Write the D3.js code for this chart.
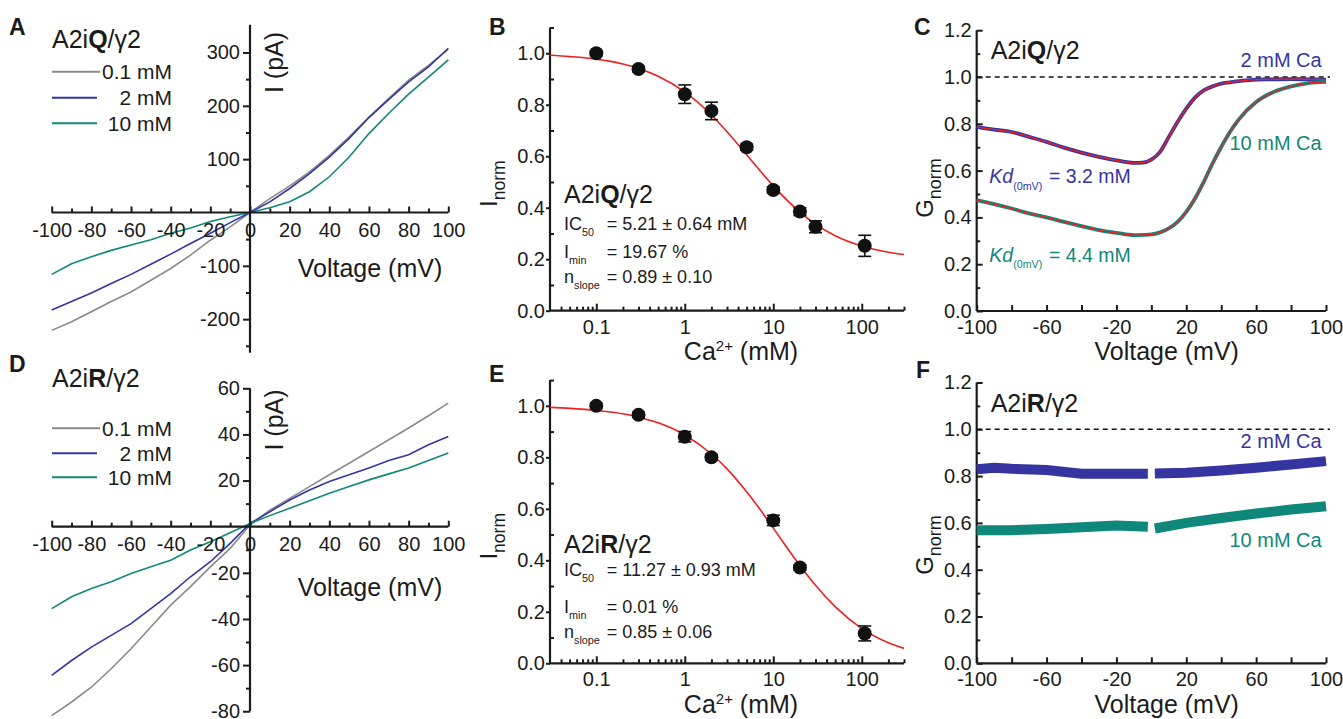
<!DOCTYPE html>
<html>
<head>
<meta charset="utf-8" />
<script src="https://d3js.org/d3.v7.min.js"></script>
<style>
  body { margin: 0; background: #fff; font-family: "Liberation Sans", Arial, sans-serif; }
  svg text { fill: #1b1b1b; }
  .tick line { stroke: #1b1b1b; stroke-width: 2; }
  .tick text { font-size: 20px; font-family: "Liberation Sans", Arial, sans-serif; fill: #1b1b1b; }
  .domain { display: none; }
  .axis-line { stroke: #1b1b1b; stroke-width: 2.2; }
</style>
</head>
<body>
<script>
// ---- data ----
const ivVoltage = [-100,-90,-80,-70,-60,-50,-40,-30,-20,-10,0,10,20,30,40,50,60,70,80,90,100];
const iqI01 = [-221,-205,-186,-167,-149,-127,-105,-80,-52,-27,0,26,50,76,107,142,179,214,248,276,306];
const iqI2  = [-183,-167,-151,-133,-116,-97,-78,-58,-39,-19,0,20,45,73,104,139,178,212,245,273,308];
const iqI10 = [-116,-96,-83,-71,-61,-51,-39,-29,-17,-8,0,9,20,39,67,104,148,186,222,254,286];
const irI01 = [-81.9,-76,-69.6,-61.6,-52.9,-43.5,-34,-26,-17.4,-9.4,0.7,7.2,12.3,17.4,22.5,27.5,32.6,37.7,42.8,48.1,53.6];
const irI2  = [-64.5,-58,-52.2,-47.1,-42,-35.5,-29,-21.7,-15.2,-7.2,1.4,6.5,11.6,15.9,19.6,22.5,25.4,28.7,31.2,35.5,39.1];
const irI10 = [-35.5,-30.4,-26.8,-23.9,-20.3,-17.4,-14.5,-10.1,-6.5,-2.6,1.4,4.8,8.0,11.2,14.5,17.4,20.3,22.9,25.4,28.7,31.9];
const legendLabels = ['0.1 mM', '2 mM', '10 mM'];

const iqConc = [0.1,0.3,1,2,5,10,20,30,108];
const iqNorm = [1.0,0.939,0.841,0.776,0.635,0.469,0.385,0.326,0.252];
const iqSem  = [0.01,0.01,0.036,0.034,0.012,0.012,0.015,0.023,0.041];
const irConc = [0.1,0.3,1,2,10,20,108];
const irNorm = [1.0,0.965,0.880,0.800,0.555,0.372,0.116];
const irSem  = [0.01,0.01,0.02,0.012,0.02,0.01,0.029];
const fitConc = [0.03,0.05,0.1,0.2,0.3,0.5,1,2,3,5,7,10,20,30,50,100,200,300];
const iqFit = [0.992,0.987,0.977,0.958,0.941,0.911,0.850,0.760,0.695,0.606,0.546,0.485,0.383,0.336,0.291,0.251,0.227,0.218];
const irFit = [0.994,0.990,0.982,0.969,0.956,0.934,0.887,0.813,0.755,0.666,0.600,0.525,0.380,0.303,0.220,0.135,0.080,0.058];

const gVoltage = [-100,-90,-80,-70,-60,-50,-40,-30,-20,-10,-5,0,5,10,15,20,25,30,35,40,45,50,60,70,80,90,100];
const iqG2  = [0.787,0.775,0.765,0.744,0.723,0.698,0.677,0.659,0.644,0.633,0.634,0.647,0.680,0.744,0.808,0.865,0.912,0.943,0.960,0.972,0.977,0.982,0.989,0.990,0.991,0.990,0.989];
const iqG10 = [0.474,0.457,0.438,0.417,0.400,0.381,0.363,0.346,0.334,0.324,0.325,0.327,0.336,0.353,0.381,0.424,0.481,0.552,0.630,0.701,0.765,0.818,0.893,0.936,0.960,0.974,0.979];
const fVoltage = [-100,-90,-80,-60,-40,-20,-2,0,2,20,40,60,80,100];
const irG2  = [0.829,0.836,0.831,0.826,0.810,0.810,0.810,null,0.811,0.814,0.824,0.836,0.850,0.864];
const irG10 = [0.569,0.569,0.569,0.574,0.581,0.589,0.584,null,0.576,0.600,0.621,0.640,0.657,0.671];

const colors = { gray: '#8a8a8a', blue: '#3535a2', teal: '#0f877a', red: '#ee2020' };
const plain = d => String(d); // keep the hyphen minus of the original

const svg = d3.select('body').append('svg').attr('width', 1343).attr('height', 719);

// text with sub/superscripts
function rich(g, x, y, size, parts, attrs = {}) {
  const t = g.append('text').attr('x', x).attr('y', y).attr('font-size', size);
  Object.entries(attrs).forEach(([k, v]) => t.attr(k, v));
  let shift = 0;
  parts.forEach(p => {
    const s = t.append('tspan').text(p.t);
    const target = p.sub ? size * 0.32 : p.sup ? -size * 0.38 : 0;
    if (p.x != null) s.attr('x', p.x);
    s.attr('dy', target - shift);
    shift = target;
    if (p.sub || p.sup) s.attr('font-size', size * (p.scale || 0.6));
    if (p.b) s.attr('font-weight', 'bold');
    if (p.i) s.attr('font-style', 'italic');
  });
  return t;
}
function vline(g, x, y1, y2) {
  g.append('line').attr('class', 'axis-line').attr('x1', x).attr('x2', x).attr('y1', y1).attr('y2', y2);
}
function hline(g, y, x1, x2) {
  g.append('line').attr('class', 'axis-line').attr('x1', x1).attr('x2', x2).attr('y1', y).attr('y2', y);
}
function letter(t, x, y) {
  svg.append('text').attr('x', x).attr('y', y).attr('font-size', 23).attr('font-weight', 'bold').text(t);
}
function title(g, x, y, bold) {
  rich(g, x, y, 25, [{ t: 'A2i' }, { t: bold, b: true }, { t: '/γ2' }]);
}

// ---------- I-V panels (A, D) ----------
const xIV = d3.scaleLinear().domain([-100, 100]).range([51.7, 448.3]);
function ivPanel({ y, yTicks, yMinor, yLow, yHigh, series, label, legendY, xLabelY }) {
  const g = svg.append('g');
  const line = d3.line().x(d => xIV(d[0])).y(d => y(d[1]));
  [colors.gray, colors.blue, colors.teal].forEach((c, i) => {
    g.append('path').attr('d', line(d3.zip(ivVoltage, series[i])))
      .attr('fill', 'none').attr('stroke', c).attr('stroke-width', 1.6);
  });
  // axes through origin
  hline(g, y(0), xIV(-100), xIV(100));
  vline(g, xIV(0), y(yLow), y(yHigh));
  g.append('g').attr('transform', `translate(0,${y(0)})`)
    .call(d3.axisBottom(xIV).tickValues(d3.range(-100, 101, 20)).tickFormat(plain)
      .tickSizeInner(-6).tickSizeOuter(0).tickPadding(10));
  g.append('g').attr('transform', `translate(0,${y(0)})`)
    .call(d3.axisBottom(xIV).tickValues(d3.range(-90, 100, 20)).tickSizeInner(-4).tickSizeOuter(0).tickFormat(''));
  g.append('g').attr('transform', `translate(${xIV(0)},0)`)
    .call(d3.axisLeft(y).tickValues(yTicks).tickFormat(plain).tickSize(7).tickPadding(3));
  g.append('g').attr('transform', `translate(${xIV(0)},0)`)
    .call(d3.axisLeft(y).tickValues(yMinor).tickSize(4).tickFormat(''));
  // axis titles
  g.append('text').attr('transform', `translate(283,${label}) rotate(-90)`)
    .attr('text-anchor', 'middle').attr('font-size', 25).text('I (pA)');
  g.append('text').attr('x', 370).attr('y', xLabelY).attr('text-anchor', 'middle')
    .attr('font-size', 25).text('Voltage (mV)');
  // legend
  [colors.gray, colors.blue, colors.teal].forEach((c, i) => {
    const ly = legendY[i];
    g.append('line').attr('x1', 52).attr('x2', i === 0 ? 100 : 97).attr('y1', ly).attr('y2', ly)
      .attr('stroke', c).attr('stroke-width', 2);
    g.append('text').attr('x', 172).attr('y', ly + 7.5).attr('text-anchor', 'end')
      .attr('font-size', 21).text(legendLabels[i]);
  });
  return g;
}

const yA = d3.scaleLinear().domain([0, 300]).range([212.5, 52.5]);
const gA = ivPanel({
  y: yA, yTicks: [-200, -100, 100, 200, 300], yMinor: [-250, -150, -50, 50, 150, 250],
  yLow: -263, yHigh: 352, series: [iqI01, iqI2, iqI10], label: 62.5, xLabelY: 277,
  legendY: [71.7, 97.7, 123.3]
});
title(gA, 52, 48, 'Q');
letter('A', 9, 35);

const yD = d3.scaleLinear().domain([0, 60]).range([526.7, 388.3]);
const gD = ivPanel({
  y: yD, yTicks: [-80, -60, -40, -20, 20, 40, 60], yMinor: [-70, -50, -30, -10, 10, 30, 50],
  yLow: -80, yHigh: 60, series: [irI01, irI2, irI10], label: 420, xLabelY: 596,
  legendY: [428.3, 453.3, 477.3]
});
title(gD, 52, 386.7, 'R');
letter('D', 9, 372);

// ---------- dose-response panels (B, E) ----------
const xCa = d3.scaleLog().domain([0.03, 300]).range([550, 904]);
const caMinor = [0.04,0.05,0.06,0.07,0.08,0.09,0.2,0.3,0.4,0.5,0.6,0.7,0.8,0.9,2,3,4,5,6,7,8,9,20,30,40,50,60,70,80,90,200,300];
function dosePanel({ y0, conc, norm, sem, fit, bold, titleY, rows, labelY }) {
  const g = svg.append('g');
  const y = d3.scaleLinear().domain([0, 1.1]).range([y0, y0 - 283.2]);
  vline(g, xCa.range()[0], y(0), y(1.1));
  hline(g, y(0), xCa.range()[0], xCa.range()[1]);
  g.append('g').attr('transform', `translate(${xCa.range()[0]},0)`)
    .call(d3.axisLeft(y).tickValues([0, 0.2, 0.4, 0.6, 0.8, 1.0]).tickFormat(d3.format('.1f')).tickSize(4).tickPadding(1));
  g.append('g').attr('transform', `translate(${xCa.range()[0]},0)`)
    .call(d3.axisLeft(y).tickValues([0.1, 0.3, 0.5, 0.7, 0.9, 1.1]).tickSizeInner(-4).tickSizeOuter(0).tickFormat(''));
  g.append('g').attr('transform', `translate(0,${y(0)})`)
    .call(d3.axisBottom(xCa).tickValues([0.1, 1, 10, 100]).tickFormat(plain).tickSizeInner(-7).tickSizeOuter(0).tickPadding(9));
  g.append('g').attr('transform', `translate(0,${y(0)})`)
    .call(d3.axisBottom(xCa).tickValues(caMinor).tickSizeInner(-4).tickSizeOuter(0).tickFormat(''));

  // fit curve
  g.append('path').attr('d', d3.line().curve(d3.curveMonotoneX).x(d => xCa(d[0])).y(d => y(d[1]))(d3.zip(fitConc, fit)))
    .attr('fill', 'none').attr('stroke', colors.red).attr('stroke-width', 1.6);
  // error bars + points
  const pts = d3.zip(conc, norm, sem);
  const eb = g.selectAll('.eb').data(pts).enter().append('g').attr('class', 'eb');
  eb.append('line').attr('x1', d => xCa(d[0])).attr('x2', d => xCa(d[0]))
    .attr('y1', d => y(d[1] - d[2])).attr('y2', d => y(d[1] + d[2])).attr('stroke', '#111').attr('stroke-width', 1.6);
  [-1, 1].forEach(s => {
    eb.append('line').attr('x1', d => xCa(d[0]) - 6.5).attr('x2', d => xCa(d[0]) + 6.5)
      .attr('y1', d => y(d[1] + s * d[2])).attr('y2', d => y(d[1] + s * d[2])).attr('stroke', '#111').attr('stroke-width', 1.6);
  });
  g.selectAll('.pt').data(pts).enter().append('circle')
    .attr('cx', d => xCa(d[0])).attr('cy', d => y(d[1])).attr('r', 7).attr('fill', '#111');

  // labels
  g.append('text').attr('transform', `translate(497,${y0 - 127}) rotate(-90)`).attr('text-anchor', 'middle')
    .call(t => {
      t.attr('font-size', 24);
      t.append('tspan').text('I');
      t.append('tspan').attr('dy', 7.5).attr('font-size', 17.5).text('norm');
    });
  rich(g, 741, labelY, 25, [{ t: 'Ca' }, { t: '2+', sup: true }, { t: ' (mM)' }], { 'text-anchor': 'middle' });
  title(g, 564, titleY, bold);
  const x2 = 606.7;
  rich(g, 564, rows[0].y, 18, [{ t: 'IC' }, { t: '50', sub: true }, { t: rows[0].t, x: x2 }]);
  rich(g, 564, rows[1].y, 18, [{ t: 'I' }, { t: 'min', sub: true }, { t: rows[1].t, x: x2 }]);
  rich(g, 564, rows[2].y, 18, [{ t: 'n' }, { t: 'slope', sub: true }, { t: rows[2].t, x: x2 }]);
  return g;
}

dosePanel({
  y0: 310.7, conc: iqConc, norm: iqNorm, sem: iqSem, fit: iqFit, bold: 'Q', titleY: 203.3, labelY: 360,
  rows: [{ y: 230, t: '= 5.21 ± 0.64 mM' }, { y: 258.3, t: '= 19.67 %' }, { y: 283.3, t: '= 0.89 ± 0.10' }]
});
letter('B', 489, 35);
dosePanel({
  y0: 663.3, conc: irConc, norm: irNorm, sem: irSem, fit: irFit, bold: 'R', titleY: 552.7, labelY: 713,
  rows: [{ y: 576, t: '= 11.27 ± 0.93 mM' }, { y: 613, t: '= 0.01 %' }, { y: 638, t: '= 0.85 ± 0.06' }]
});
letter('E', 489, 382);

// ---------- conductance panels (C, F) ----------
const xG = d3.scaleLinear().domain([-100, 100]).range([976.7, 1326]);
function gPanel({ y0, bold, titleY, labelY, gLabelY }) {
  const g = svg.append('g');
  const y = d3.scaleLinear().domain([0, 1.2]).range([y0, y0 - 280.8]);
  vline(g, xG(-100), y(0), y(1.2));
  hline(g, y(0), xG(-100), xG(100));
  g.append('g').attr('transform', `translate(${xG(-100)},0)`)
    .call(d3.axisLeft(y).tickValues([0, 0.2, 0.4, 0.6, 0.8, 1.0, 1.2]).tickFormat(d3.format('.1f')).tickSizeInner(-6).tickSizeOuter(0).tickPadding(5));
  g.append('g').attr('transform', `translate(${xG(-100)},0)`)
    .call(d3.axisLeft(y).tickValues([0.1, 0.3, 0.5, 0.7, 0.9, 1.1]).tickSizeInner(-3.5).tickSizeOuter(0).tickFormat(''));
  const lab = [-100, -60, -20, 20, 60, 100];
  g.append('g').attr('transform', `translate(0,${y(0)})`)
    .call(d3.axisBottom(xG).tickValues(d3.range(-100, 101, 20)).tickSizeInner(-6).tickSizeOuter(0).tickPadding(9)
      .tickFormat(d => lab.includes(d) ? String(d) : ''));
  g.append('line').attr('x1', xG(-100)).attr('x2', xG(100) + 4).attr('y1', y(1)).attr('y2', y(1))
    .attr('stroke', '#111').attr('stroke-width', 1.5).attr('stroke-dasharray', '5,4');
  g.append('text').attr('transform', `translate(933,${gLabelY}) rotate(-90)`).attr('text-anchor', 'middle')
    .call(t => {
      t.attr('font-size', 24);
      t.append('tspan').text('G');
      t.append('tspan').attr('dy', 7.5).attr('font-size', 18).text('norm');
    });
  g.append('text').attr('x', 1166.7).attr('y', labelY).attr('text-anchor', 'middle').attr('font-size', 25).text('Voltage (mV)');
  title(g, 990.7, titleY, bold);
  return { g, y };
}

const C = gPanel({ y0: 311, bold: 'Q', titleY: 59.3, labelY: 360, gLabelY: 188 });
{
  const line = d3.line().curve(d3.curveMonotoneX).x(d => xG(d[0])).y(d => C.y(d[1]));
  [[iqG2, colors.blue], [iqG10, colors.teal]].forEach(([arr, c]) => {
    const pts = d3.zip(gVoltage, arr);
    C.g.append('path').attr('d', line(pts)).attr('fill', 'none').attr('stroke', c).attr('stroke-width', 3.8);
    C.g.append('path').attr('d', line(pts)).attr('fill', 'none').attr('stroke', colors.red).attr('stroke-width', 1.3);
  });
  C.g.append('text').attr('x', 1321.7).attr('y', 66.7).attr('text-anchor', 'end').attr('font-size', 20)
    .style('fill', colors.blue).text('2 mM Ca');
  C.g.append('text').attr('x', 1321.7).attr('y', 150).attr('text-anchor', 'end').attr('font-size', 20)
    .style('fill', colors.teal).text('10 mM Ca');
  rich(C.g, 989.3, 183.3, 19.5, [{ t: 'Kd', i: true }, { t: '(0mV)', sub: true, scale: 0.55 }, { t: '= 3.2 mM', x: 1049 }])
    .style('fill', colors.blue);
  rich(C.g, 989.3, 261.7, 19.5, [{ t: 'Kd', i: true }, { t: '(0mV)', sub: true, scale: 0.55 }, { t: '= 4.4 mM', x: 1049 }])
    .style('fill', colors.teal);
}
letter('C', 914, 35);

const F = gPanel({ y0: 663.3, bold: 'R', titleY: 411.7, labelY: 713, gLabelY: 545 });
{
  const line = d3.line().defined(d => d[1] != null).x(d => xG(d[0])).y(d => F.y(d[1]));
  [[irG2, colors.blue], [irG10, colors.teal]].forEach(([arr, c]) => {
    F.g.append('path').attr('d', line(d3.zip(fVoltage, arr))).attr('fill', 'none')
      .attr('stroke', c).attr('stroke-width', 10);
  });
  F.g.append('text').attr('x', 1321.7).attr('y', 447.7).attr('text-anchor', 'end').attr('font-size', 20)
    .style('fill', colors.blue).text('2 mM Ca');
  F.g.append('text').attr('x', 1321.7).attr('y', 546.7).attr('text-anchor', 'end').attr('font-size', 20)
    .style('fill', colors.teal).text('10 mM Ca');
}
letter('F', 916, 378);
</script>
</body>
</html>
